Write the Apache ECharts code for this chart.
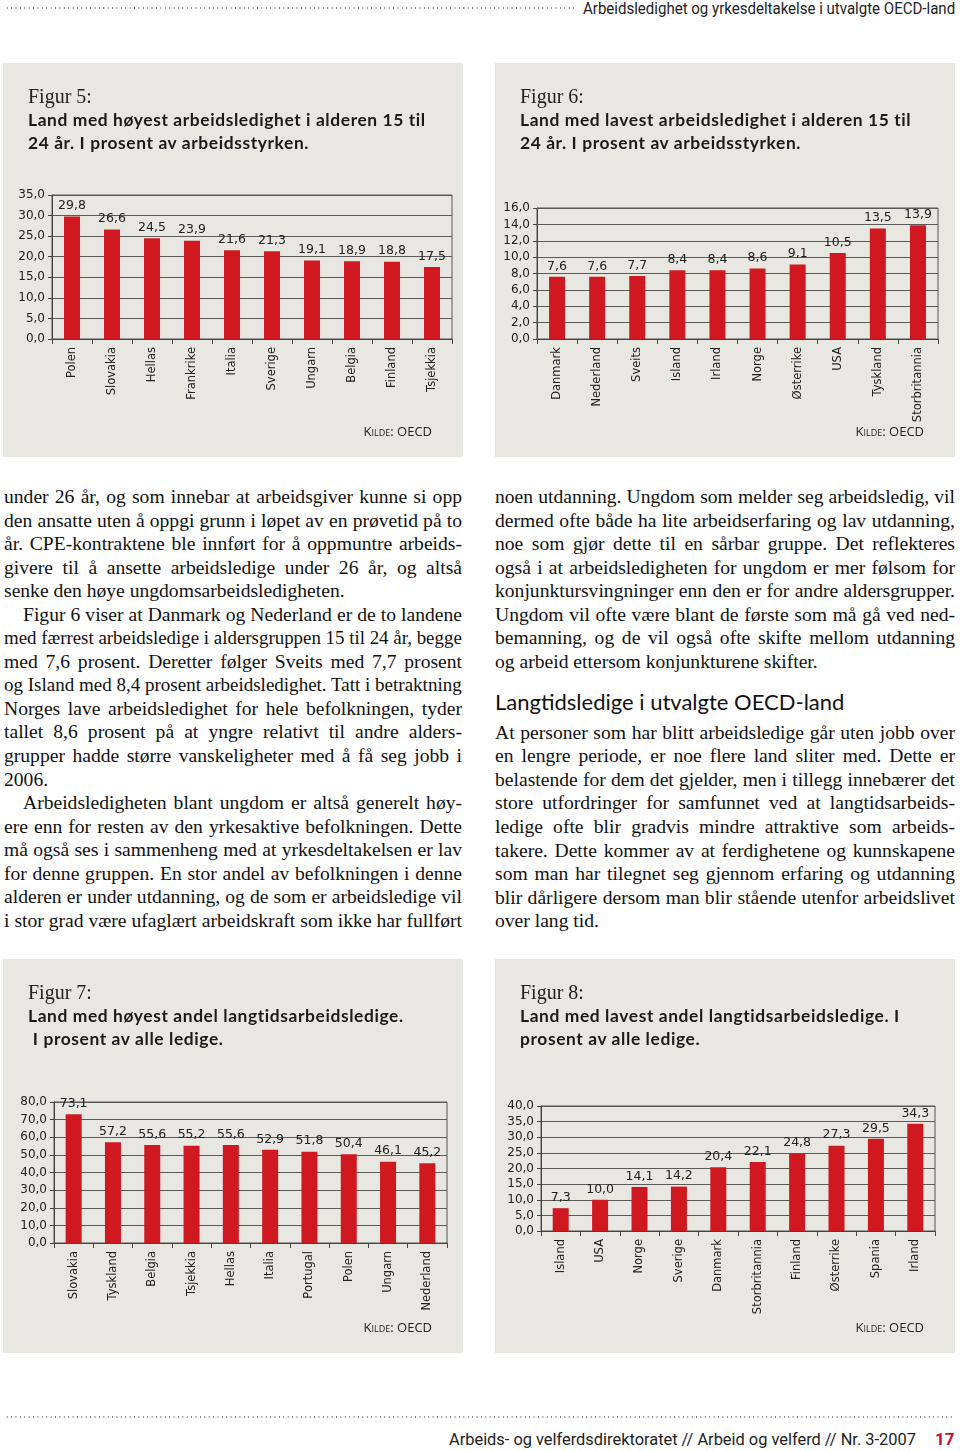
<!DOCTYPE html>
<html>
<head>
<meta charset="utf-8">
<script src="https://cdn.jsdelivr.net/npm/echarts@6/dist/echarts.min.js"></script>
<style>
  body { margin: 0; background: #fff; }
  #page { position: relative; width: 960px; height: 1451px; overflow: hidden; background: #fff; }
  .dots { position: absolute; height: 2px;
    background-image: radial-gradient(circle, #777 0.8px, transparent 1px);
    background-size: 4.4px 2px; background-repeat: repeat-x; }
  .fit { position: absolute; white-space: nowrap; transform-origin: left center; }
  .panel { position: absolute; width: 460px; height: 394px; background: #e8e7e2; }
  .panel .chart { position: absolute; left: 0; top: 0; width: 460px; height: 394px; }
  .panel .fig { position: absolute; left: 25px; top: 22px; font: 20px "Liberation Serif", serif; color: #222; }
  .panel .ttl { position: absolute; left: 25px; top: 45px; font: 700 17.4px/23px Lato, sans-serif; color: #1a1a1a; letter-spacing: 0.6px; white-space: pre; }
  .panel .kilde { position: absolute; right: 31px; top: 359px; font: 13px "Open Sans", sans-serif; font-variant: small-caps; color: #222; }
  .col { position: absolute; top: 485px; font: 19.6px/23.56px "Liberation Serif", serif; color: #111; }
  .ln { white-space: nowrap; height: 23.56px; }
  .ln.j { text-align: justify; text-align-last: justify; }
  .ln span { display: inline-block; transform-origin: left center; }
  .ln.ind { padding-left: 19px; }
  .head { box-sizing: border-box; height: 47.44px; padding-top: 17px; font: 22px/24px Lato, sans-serif; color: #111; white-space: nowrap; }
</style>
</head>
<body>
<div id="page">
  <div class="dots" style="left:5px; top:7px; width:572px;"></div>
  <div class="fit" id="hdr" style="left:583px; top:-1px; font:16px Roboto, sans-serif; color:#222;">Arbeidsledighet og yrkesdeltakelse i utvalgte OECD-land</div>

  <div class="panel" style="left:3px; top:63px;">
    <div class="chart" id="fig5"></div>
    <div class="fig">Figur 5:</div>
    <div class="ttl">Land med høyest arbeidsledighet i alderen 15 til
24 år. I prosent av arbeidsstyrken.</div>
    <div class="kilde">Kilde: OECD</div>
  </div>
  <div class="panel" style="left:495px; top:63px;">
    <div class="chart" id="fig6"></div>
    <div class="fig">Figur 6:</div>
    <div class="ttl">Land med lavest arbeidsledighet i alderen 15 til
24 år. I prosent av arbeidsstyrken.</div>
    <div class="kilde">Kilde: OECD</div>
  </div>

  <div class="col" id="colL" style="left:4px; width:458px;"></div>
  <div class="col" id="colR" style="left:495px; width:460px;"></div>

  <div class="panel" style="left:3px; top:959px;">
    <div class="chart" id="fig7"></div>
    <div class="fig">Figur 7:</div>
    <div class="ttl">Land med høyest andel langtidsarbeidsledige.
 I prosent av alle ledige.</div>
    <div class="kilde">Kilde: OECD</div>
  </div>
  <div class="panel" style="left:495px; top:959px;">
    <div class="chart" id="fig8"></div>
    <div class="fig">Figur 8:</div>
    <div class="ttl">Land med lavest andel langtidsarbeidsledige. I
prosent av alle ledige.</div>
    <div class="kilde">Kilde: OECD</div>
  </div>

  <div class="dots" style="left:5px; top:1416px; width:950px;"></div>
  <div class="fit" id="ftr" style="left:449px; top:1430px; font:16px Roboto, sans-serif; color:#222;">Arbeids- og velferdsdirektoratet // Arbeid og velferd // Nr. 3-2007</div>
  <div style="position:absolute; left:935px; top:1429px; font:700 17px Roboto, sans-serif; color:#c8102e;">17</div>
</div>

<script>
// Figur 5: høyest arbeidsledighet 15-24 år
var fig5Countries = ['Polen', 'Slovakia', 'Hellas', 'Frankrike', 'Italia', 'Sverige', 'Ungarn', 'Belgia', 'Finland', 'Tsjekkia'];
var fig5Values = [29.8, 26.6, 24.5, 23.9, 21.6, 21.3, 19.1, 18.9, 18.8, 17.5];

// Figur 6: lavest arbeidsledighet 15-24 år
var fig6Countries = ['Danmark', 'Nederland', 'Sveits', 'Island', 'Irland', 'Norge', 'Østerrike', 'USA', 'Tyskland', 'Storbritannia'];
var fig6Values = [7.6, 7.6, 7.7, 8.4, 8.4, 8.6, 9.1, 10.5, 13.5, 13.9];

// Figur 7: høyest andel langtidsledige
var fig7Countries = ['Slovakia', 'Tyskland', 'Belgia', 'Tsjekkia', 'Hellas', 'Italia', 'Portugal', 'Polen', 'Ungarn', 'Nederland'];
var fig7Values = [73.1, 57.2, 55.6, 55.2, 55.6, 52.9, 51.8, 50.4, 46.1, 45.2];

// Figur 8: lavest andel langtidsledige
var fig8Countries = ['Island', 'USA', 'Norge', 'Sverige', 'Danmark', 'Storbritannia', 'Finland', 'Østerrike', 'Spania', 'Irland'];
var fig8Values = [7.3, 10.0, 14.1, 14.2, 20.4, 22.1, 24.8, 27.3, 29.5, 34.3];

// y-akser: [maks, intervall]
var fig5Axis = [35, 5];
var fig6Axis = [16, 2];
var fig7Axis = [80, 10];
var fig8Axis = [40, 5];

function komma (v) {
    return Number(v).toFixed(1).replace('.', ',');
}

function tegnFigur (id, land, verdier, akse, grid) {
    var chart = echarts.init(document.getElementById(id), null, { renderer: 'canvas' });
    var option = {
        animation: false,
        grid: {
            left: grid[0], top: grid[1], right: grid[2], bottom: grid[3],
            show: true,
            borderColor: '#555',
            borderWidth: 1,
            backgroundColor: 'transparent'
        },
        xAxis: {
            type: 'category',
            data: land,
            axisLine: { lineStyle: { color: '#444', width: 1 } },
            axisTick: { show: true, length: 5, lineStyle: { color: '#444' } },
            axisLabel: {
                rotate: 90,
                margin: 8,
                color: '#222',
                fontSize: 11.5,
                fontFamily: 'DejaVu Sans'
            }
        },
        yAxis: {
            type: 'value',
            min: 0,
            max: akse[0],
            interval: akse[1],
            axisLine: { show: true, lineStyle: { color: '#444', width: 1 } },
            axisTick: { show: true, length: 4, lineStyle: { color: '#444' } },
            splitLine: { lineStyle: { color: '#5a5a5a', width: 1 } },
            axisLabel: {
                formatter: komma,
                margin: 7,
                color: '#222',
                fontSize: 12,
                fontFamily: 'DejaVu Sans'
            }
        },
        series: [{
            type: 'bar',
            data: verdier,
            barWidth: 16, //søylebredde
            itemStyle: { color: '#cf1820' },
            label: {
                show: true,
                position: 'top',
                distance: 4,
                formatter: function (p) { return komma(p.value); },
                color: '#222',
                fontSize: 12.5,
                fontFamily: 'DejaVu Sans'
            }
        }]
    };
    chart.setOption(option);
}

tegnFigur('fig5', fig5Countries, fig5Values, fig5Axis, [49, 132, 11, 118]);
tegnFigur('fig6', fig6Countries, fig6Values, fig6Axis, [42, 145, 17, 118]);
tegnFigur('fig7', fig7Countries, fig7Values, fig7Axis, [51, 143, 16, 110]);
tegnFigur('fig8', fig8Countries, fig8Values, fig8Axis, [46, 147, 20, 122]);

// brødtekst, linje for linje: '>' = innrykk, '|' på slutten = siste linje i avsnitt
var venstre = [
    'under 26 år, og som innebar at arbeidsgiver kunne si opp',
    'den ansatte uten å oppgi grunn i løpet av en prøvetid på to',
    'år. CPE-kontraktene ble innført for å oppmuntre arbeids-',
    'givere til å ansette arbeidsledige under 26 år, og altså',
    'senke den høye ungdomsarbeidsledigheten.|',
    '>Figur 6 viser at Danmark og Nederland er de to landene',
    'med færrest arbeidsledige i aldersgruppen 15 til 24 år, begge',
    'med 7,6 prosent. Deretter følger Sveits med 7,7 prosent',
    'og Island med 8,4 prosent arbeidsledighet. Tatt i betraktning',
    'Norges lave arbeidsledighet for hele befolkningen, tyder',
    'tallet 8,6 prosent på at yngre relativt til andre alders-',
    'grupper hadde større vanskeligheter med å få seg jobb i',
    '2006.|',
    '>Arbeidsledigheten blant ungdom er altså generelt høy-',
    'ere enn for resten av den yrkesaktive befolkningen. Dette',
    'må også ses i sammenheng med at yrkesdeltakelsen er lav',
    'for denne gruppen. En stor andel av befolkningen i denne',
    'alderen er under utdanning, og de som er arbeidsledige vil',
    'i stor grad være ufaglært arbeidskraft som ikke har fullført'
];
var hoyre = [
    'noen utdanning. Ungdom som melder seg arbeidsledig, vil',
    'dermed ofte både ha lite arbeidserfaring og lav utdanning,',
    'noe som gjør dette til en sårbar gruppe. Det reflekteres',
    'også i at arbeidsledigheten for ungdom er mer følsom for',
    'konjunktursvingninger enn den er for andre aldersgrupper.',
    'Ungdom vil ofte være blant de første som må gå ved ned-',
    'bemanning, og de vil også ofte skifte mellom utdanning',
    'og arbeid ettersom konjunkturene skifter.|',
    '#Langtidsledige i utvalgte OECD-land',
    'At personer som har blitt arbeidsledige går uten jobb over',
    'en lengre periode, er noe flere land sliter med. Dette er',
    'belastende for dem det gjelder, men i tillegg innebærer det',
    'store utfordringer for samfunnet ved at langtidsarbeids-',
    'ledige ofte blir gradvis mindre attraktive som arbeids-',
    'takere. Dette kommer av at ferdighetene og kunnskapene',
    'som man har tilegnet seg gjennom erfaring og utdanning',
    'blir dårligere dersom man blir stående utenfor arbeidslivet',
    'over lang tid.|'
];

function settTekst (id, linjer) {
    var col = document.getElementById(id);
    var bredde = col.clientWidth;
    linjer.forEach(function (t) {
        var div = document.createElement('div');
        if (t.charAt(0) === '#') {
            div.className = 'head';
            div.textContent = t.slice(1);
            col.appendChild(div);
            return;
        }
        div.className = 'ln';
        var sist = false, innrykk = 0;
        if (t.charAt(0) === '>') { div.className += ' ind'; t = t.slice(1); innrykk = 19; }
        if (t.charAt(t.length - 1) === '|') { sist = true; t = t.slice(0, -1); }
        var span = document.createElement('span');
        span.textContent = t;
        div.appendChild(span);
        col.appendChild(div);
        var w = span.offsetWidth;
        var plass = bredde - innrykk;
        if (w > plass) {
            span.style.transform = 'scaleX(' + (plass / w) + ')';
        } else if (!sist) {
            span.style.display = 'inline';
            div.className += ' j';
        }
    });
}
settTekst('colL', venstre);
settTekst('colR', hoyre);

function tilpass (id, bredde) {
    var el = document.getElementById(id);
    el.style.transform = 'scaleX(' + (bredde / el.offsetWidth) + ')';
}
tilpass('hdr', 372);
tilpass('ftr', 467);
</script>
</body>
</html>
